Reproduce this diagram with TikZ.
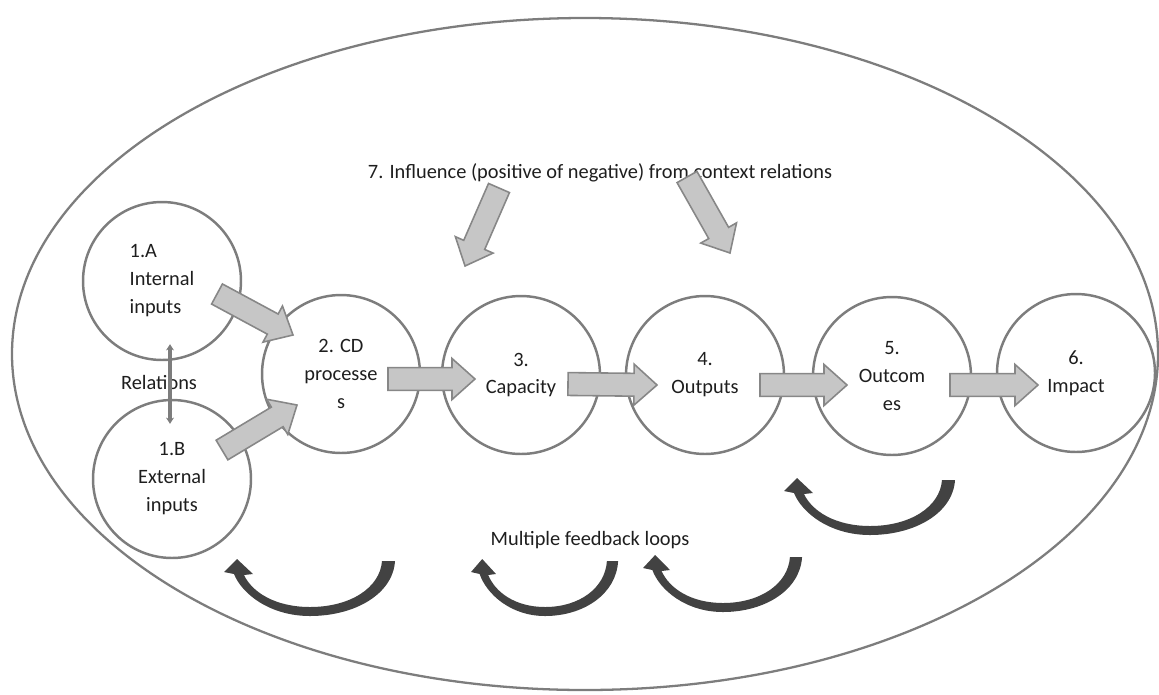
\documentclass[tikz,border=0pt]{standalone}
\usepackage{fontspec}
\setmainfont{Carlito}
\usetikzlibrary{arrows.meta, calc}
\definecolor{ringgrey}{RGB}{125,125,125}
\definecolor{flowfill}{RGB}{198,198,198}
\definecolor{flowedge}{RGB}{135,135,135}
\definecolor{loopdark}{RGB}{66,66,66}
\definecolor{labelgrey}{RGB}{30,30,30}
\tikzset{
    stage/.style    = {circle, draw = ringgrey, line width = 1.4pt, minimum size = 3.16cm, inner sep = 0pt, align = center, text = labelgrey},
    frame/.style    = {draw = ringgrey, line width = 1.3pt},
    flow/.style     = {draw = flowedge, fill = flowfill, line width = 0.9pt, line join = miter},
    relation/.style = {draw = ringgrey, line width = 2pt, {Stealth[length=3.5pt,width=4.5pt]}-{Stealth[length=3.5pt,width=4.5pt]}},
    caption/.style  = {text = labelgrey, inner sep = 1pt},
    feedback/.pic   = {\fill[loopdark] (85,-55) .. controls (83,-22) and (45,0) .. (0,0) .. controls (-40,0) and (-68,-22) .. (-76,-42) -- (-86,-44) -- (-73,-57) -- (-57,-42) -- (-66,-41) .. controls (-58,-24) and (-35,-9) .. (0,-9) .. controls (40,-9) and (70,-28) .. (72,-55) -- cycle;}
}
\newcommand{\flowarrow}[2]{%
    \path[flow] let \p1 = #1, \p2 = #2, \n1 = {atan2(\y2-\y1,\x2-\x1)}, \n2 = {veclen(\x2-\x1,\y2-\y1)-13.1} in
    ($(\p1)+(\n1+90:6.5pt)$) -- ($(\p1)+(\n1:\n2)+(\n1+90:6.5pt)$) -- ($(\p1)+(\n1:\n2)+(\n1+90:11.7pt)$) -- (\p2)
    -- ($(\p1)+(\n1:\n2)+(\n1-90:11.7pt)$) -- ($(\p1)+(\n1:\n2)+(\n1-90:6.5pt)$) -- ($(\p1)+(\n1-90:6.5pt)$) -- cycle;}

\begin{document}
\begin{tikzpicture}[x=0.02cm, y=-0.02cm, font=\fontsize{11.6}{15.9}\selectfont]
		\useasboundingbox (0,0) rectangle (1159,694);
		\draw[frame] (585,354) ellipse (573 and 336);

		\node[stage, align=left] (c1a) at (162,281) {1.A\\Internal\\inputs};
		\node[stage] (c1b) at (172,479) {1.B\\External\\inputs};
		\node[stage] (c2) at (341,374) {2. CD\\processe\\s};
		\node[stage] (c3) at (521,375) {3.\\Capacity};
		\node[stage] (c4) at (705,375) {4.\\Outputs};
		\node[stage] (c5) at (892,376) {5.\\Outcom\\es};
		\node[stage] (c6) at (1076,373) {6.\\Impact};

		\node[caption] (infl) at (600,173) {7. Influence (positive of negative) from context relations};
		\node[caption] (rel) at (159,382) {Relations};
		\node[caption] (fb) at (590,540) {Multiple feedback loops};

		\draw[relation] ($(c1a.south)+(8,-17)$) -- ($(c1b.north)+(-2,25)$);

		\flowarrow{($(c1a)+(55,13)$)}{($(c2)+(-48,-39)$)}
		\flowarrow{($(c1b)+(50,-29)$)}{($(c2)+(-44,31)$)}
		\flowarrow{($(c2)+(47,5)$)}{($(c3)+(-46,4)$)}
		\flowarrow{($(c3)+(47,9)$)}{($(c4)+(-48,10)$)}
		\flowarrow{($(c4)+(55,10)$)}{($(c5)+(-45,9)$)}
		\flowarrow{($(c5)+(58,9)$)}{($(c6)+(-38,12)$)}
		\flowarrow{($(infl)+(-101,15)$)}{($(c3)+(-56,-109)$)}
		\flowarrow{($(infl)+(87,4)$)}{($(c4)+(25,-122)$)}

		\pic at (310,616) {feedback};
		\pic[xscale=0.86] at (545,616) {feedback};
		\pic[xscale=0.93] at (723,612) {feedback};
		\pic at (870,535) {feedback};
	\end{tikzpicture}
\end{document}
